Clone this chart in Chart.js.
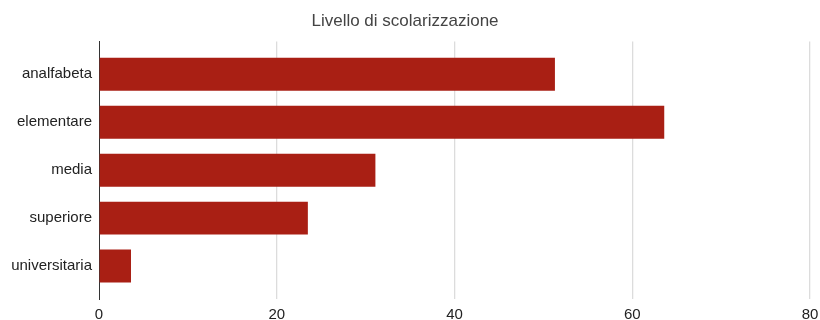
<!DOCTYPE html>
<html>
<head>
<meta charset="utf-8">
<script src="https://cdn.jsdelivr.net/npm/chart.js@4/dist/chart.umd.min.js"></script>
<style>
  html, body { margin: 0; padding: 0; background: #fff; }
  #wrap { width: 820px; height: 320px; position: relative; }
</style>
</head>
<body>
<div id="wrap"><canvas id="chart"></canvas></div>
<script>
// Education level categories and their values
const categories = ['analfabeta', 'elementare', 'media', 'superiore', 'universitaria'];
const values = [51.3, 63.6, 31.1, 23.5, 3.6];
const xTicks = [0, 20, 40, 60, 80];
const titleText = 'Livello di scolarizzazione';

const FONT = "'Liberation Sans', Arial, sans-serif";

// Bars are placed at integer positions on a linear index axis
const points = values.map((v, i) => ({ x: v, y: i }));

new Chart(document.getElementById('chart'), {
  type: 'bar',
  data: {
    datasets: [{
      data: points,
      backgroundColor: '#a91f14',
      borderWidth: 0,
      categoryPercentage: 1,
      barPercentage: 0.6875
    }]
  },
  options: {
    indexAxis: 'y',
    responsive: true,
    maintainAspectRatio: false,
    animation: false,
    layout: { padding: { top: 0, right: 10, bottom: 0, left: 0 } },
    plugins: {
      legend: { display: false },
      tooltip: { enabled: false },
      title: {
        display: true,
        text: titleText,
        color: '#444',
        font: { family: FONT, size: 17, weight: 'normal' },
        padding: { top: 11, bottom: 10 }
      }
    },
    scales: {
      x: {
        type: 'linear',
        min: xTicks[0],
        max: xTicks[xTicks.length - 1],
        afterBuildTicks: axis => { axis.ticks = xTicks.map(v => ({ value: v })); },
        afterFit: scale => {
          scale.height = 21;
          scale.paddingLeft = 0;
          scale.paddingRight = 0;
        },
        grid: {
          drawTicks: false,
          color: c => (c.tick && c.tick.value === 0) ? 'rgba(0,0,0,0)' : '#dcdcdc',
          lineWidth: 1.3
        },
        border: { display: false },
        ticks: {
          padding: 7,
          maxRotation: 0,
          color: '#222',
          font: { family: FONT, size: 15 }
        }
      },
      y: {
        type: 'linear',
        reverse: true,
        offset: false,
        min: -0.6875,
        max: categories.length - 1 + 0.6875,
        afterBuildTicks: axis => { axis.ticks = categories.map((_, i) => ({ value: i })); },
        afterFit: scale => { scale.width = 99; },
        grid: { display: false, drawTicks: false, offset: false },
        border: { display: true, color: '#333', width: 1 },
        ticks: {
          padding: 7,
          color: '#222',
          font: { family: FONT, size: 15 },
          callback: v => categories[v] !== undefined ? categories[v] : ''
        }
      }
    }
  }
});
</script>
</body>
</html>
